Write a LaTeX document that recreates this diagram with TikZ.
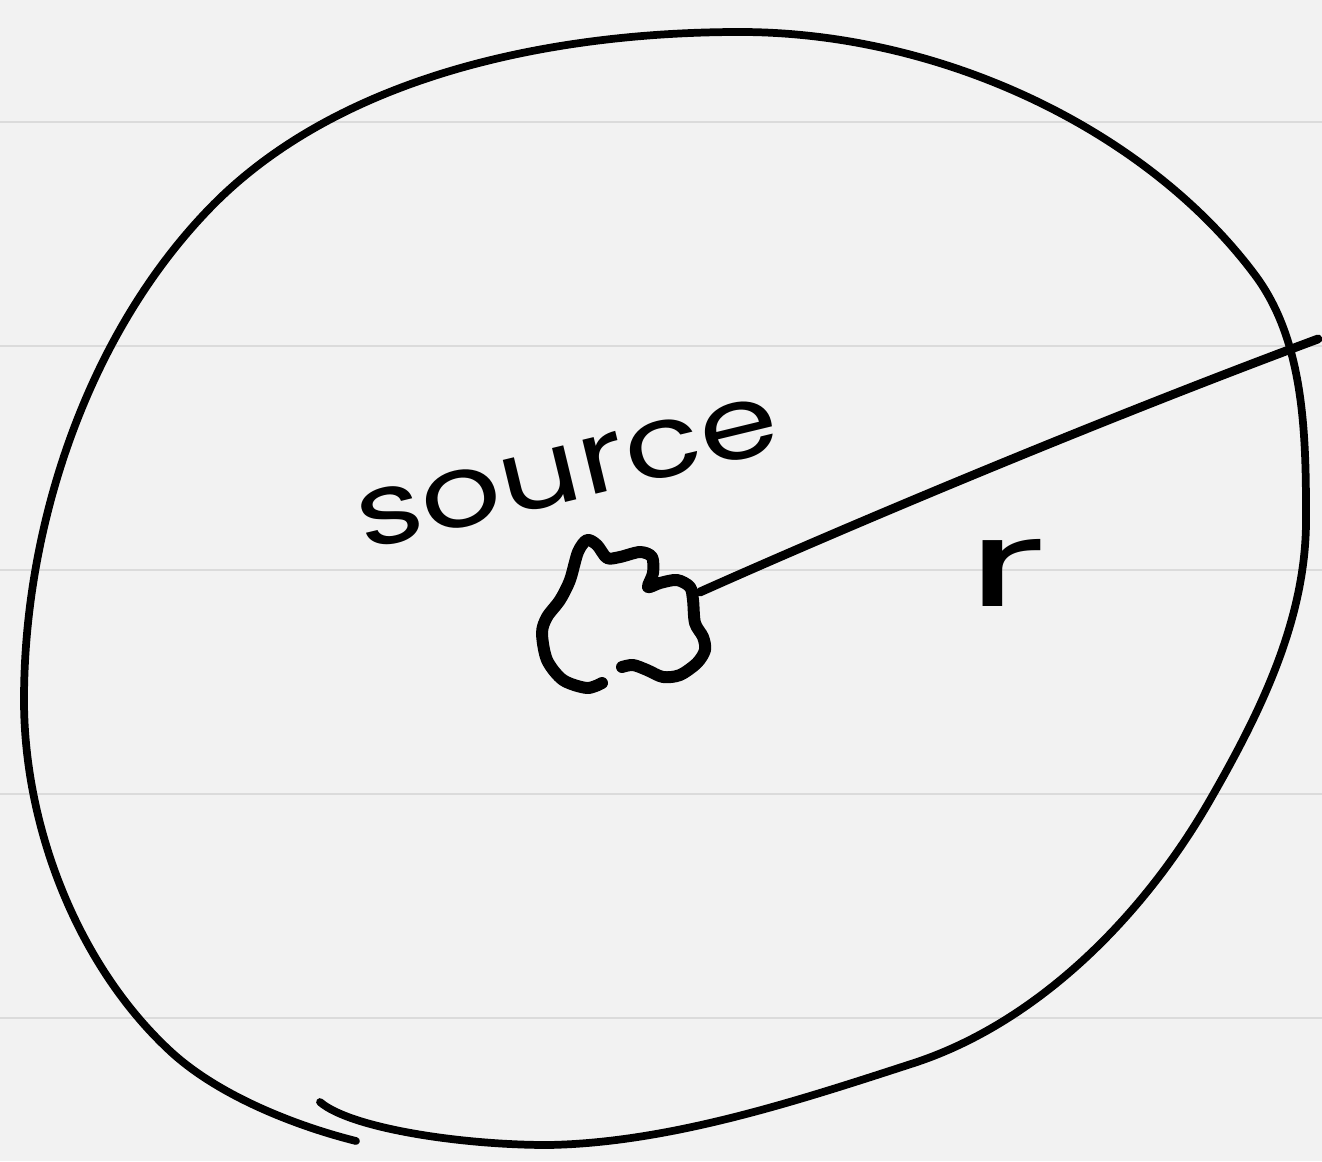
\documentclass[tikz,border=0pt]{standalone}
\usepackage{fontspec}
\newfontfamily\handfont{Poppins}
\begin{document}
\begin{tikzpicture}[x=0.01cm,y=-0.01cm,
  ink/.style={draw=black, line width=2.2pt, line cap=round, line join=round},
  blobink/.style={draw=black, line width=3.4pt, line cap=round, line join=round},
  ruled/.style={draw=black!14, line width=0.6pt},
  lbl/.style={inner sep=0pt, font=\handfont\fontsize{36}{44}\selectfont}]
\useasboundingbox (0,0) rectangle (1322,1161);
\fill[black!5] (0,0) rectangle (1322,1161);
\foreach \yy in {122,346,570,794,1018} \draw[ruled] (0,\yy) -- (1322,\yy);
% outer boundary
\draw[ink] (320,1102)
  .. controls (350,1128) and (460,1145) .. (548,1145)
  .. controls (670,1143) and (800,1100) .. (914,1063)
  .. controls (1039,1022) and (1144,915) .. (1210,800)
  .. controls (1260,713) and (1306,620) .. (1306,520)
  .. controls (1306,437) and (1305,342) .. (1255,275)
  .. controls (1146,129) and (940,32) .. (740,32)
  .. controls (555,32) and (341,74) .. (211,207)
  .. controls (88,333) and (24,525) .. (24,700)
  .. controls (24,826) and (77,964) .. (169,1050)
  .. controls (219,1097) and (300,1127) .. (356,1141);
% source blob
\draw[blobink] plot[smooth, tension=0.5] coordinates {
 (602,683) (587,688) (563,680) (547,660) (542,633) (547,617) (560,600)
 (570,580) (578,552) (587,540) (597,545) (607,558) (620,557) (640,552)
 (652,557) (653,573) (648,587) (660,583) (677,580) (690,587) (693,600)
 (695,623) (703,637) (705,650) (697,663) (680,675) (663,677) (647,670)
 (633,665) (622,667)};
\coordinate (src) at (700,592);
\coordinate (edge) at (1318,339);
\draw[ink, line width=2.5pt] (src) .. controls (850,525) and (1100,420) .. (edge);
\node[lbl, rotate=13.6, anchor=base] (srclabel) at (574,500)
  {\scalebox{1.0}[0.8]{source}};
\node[lbl, anchor=base west] (rlabel) at (966,606) {\scalebox{1.7}[0.95]{r}};
\end{tikzpicture}
\end{document}
